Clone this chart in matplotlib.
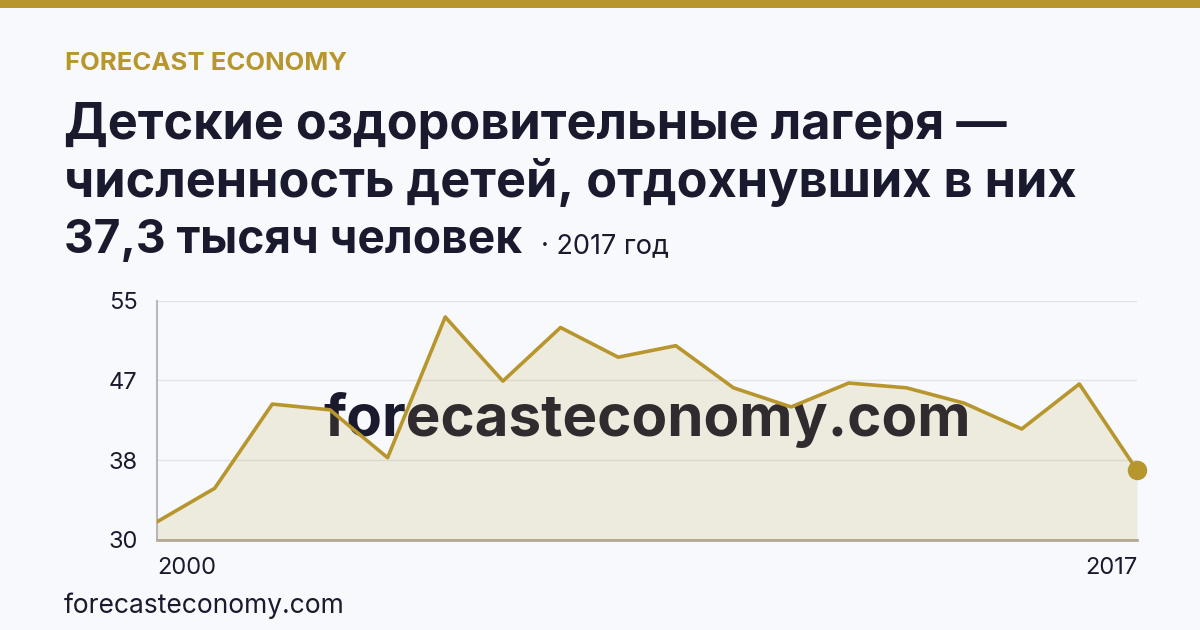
import matplotlib
matplotlib.use("Agg")
import matplotlib.pyplot as plt
from matplotlib.patches import Rectangle

# ---- data ----
years = [2000, 2001, 2002, 2003, 2004, 2005, 2006, 2007, 2008,
         2009, 2010, 2011, 2012, 2013, 2014, 2015, 2016, 2017]
values = [31.9, 35.4, 44.2, 43.6, 38.6, 53.3, 46.6, 52.2, 49.1,
          50.3, 45.9, 43.9, 46.4, 45.9, 44.3, 41.6, 46.3, 37.3]
y_ticks = [30, 30 + 25 / 3, 30 + 50 / 3, 55]
y_tick_labels = ["30", "38", "47", "55"]
x_tick_labels = ["2000", "2017"]

brand = "FORECAST ECONOMY"
title_lines = ["Детские оздоровительные лагеря —",
               "численность детей, отдохнувших в них"]
value_line = "37,3 тысяч человек"
subtitle = "· 2017 год"
watermark = "forecasteconomy.com"
footer = "forecasteconomy.com"

GOLD = "#b8962e"
BG = "#f7f9fc"
DARK = "#1a1a2e"

plt.rcParams['font.family'] = ['Inter', 'DejaVu Sans']

W, H = 1200, 630
fig = plt.figure(figsize=(W / 100, H / 100), dpi=100, facecolor=BG)

def fy(px):
    return 1 - px / H

def fx(px):
    return px / W

# top bar
fig.patches.append(Rectangle((0, fy(8)), 1, 8 / H, transform=fig.transFigure,
                             facecolor=GOLD, edgecolor="none", zorder=0))

fig.text(fx(65), fy(70), brand, fontsize=18.5, fontweight="bold", color=GOLD,
         va="baseline", ha="left")

for line, b in zip(title_lines, [139, 197]):
    fig.text(fx(64), fy(b), line, fontsize=36.3, fontweight="bold",
             color=DARK, va="baseline", ha="left")
fig.text(fx(64), fy(253), value_line, fontsize=33.2, fontweight="bold",
         color=DARK, va="baseline", ha="left")
fig.text(fx(541), fy(253), subtitle, fontsize=19.5, color=DARK,
         va="baseline", ha="left")

# axes
left, right = 157, 1137
top, bottom = 300.7, 540
ax = fig.add_axes([fx(left), fy(bottom), fx(right - left), (bottom - top) / H])
ax.set_facecolor("none")
ax.set_xlim(years[0], years[-1])
ax.set_ylim(30, 55)

ax.text(0.5, 0.5, watermark, transform=ax.transAxes, ha="center", va="center",
        fontsize=42, fontweight="bold", color=DARK, zorder=2)
ax.fill_between(years, values, 30, color=GOLD, alpha=0.145, linewidth=0,
                zorder=3)
ax.plot(years, values, color=GOLD, linewidth=2.6, zorder=4)
ax.plot([years[-1]], [values[-1]], "o", color=GOLD, markersize=13,
        clip_on=False, zorder=5)

ax.set_yticks(y_ticks)
ax.set_yticklabels(y_tick_labels)
ax.set_xticks([years[0], years[-1]])
ax.set_xticklabels(x_tick_labels)
xl = ax.get_xticklabels()
xl[0].set_horizontalalignment("left")
xl[1].set_horizontalalignment("right")
ax.tick_params(axis="both", length=0, labelsize=17, labelcolor=DARK)
ax.tick_params(axis="y", pad=14)
ax.tick_params(axis="x", pad=12)

ax.grid(axis="y", color="#e1e3e8", linewidth=1, zorder=0)
ax.set_axisbelow(True)
for s in ["top", "right"]:
    ax.spines[s].set_visible(False)
ax.spines["left"].set_color("#b9b9bb")
ax.spines["left"].set_linewidth(1.5)
ax.spines["bottom"].set_color("#b3ab9c")
ax.spines["bottom"].set_linewidth(2)

fig.text(fx(64), fy(613), footer, fontsize=19, color=DARK, va="baseline",
         ha="left")

fig.savefig("out.png", dpi=100, facecolor=BG)
